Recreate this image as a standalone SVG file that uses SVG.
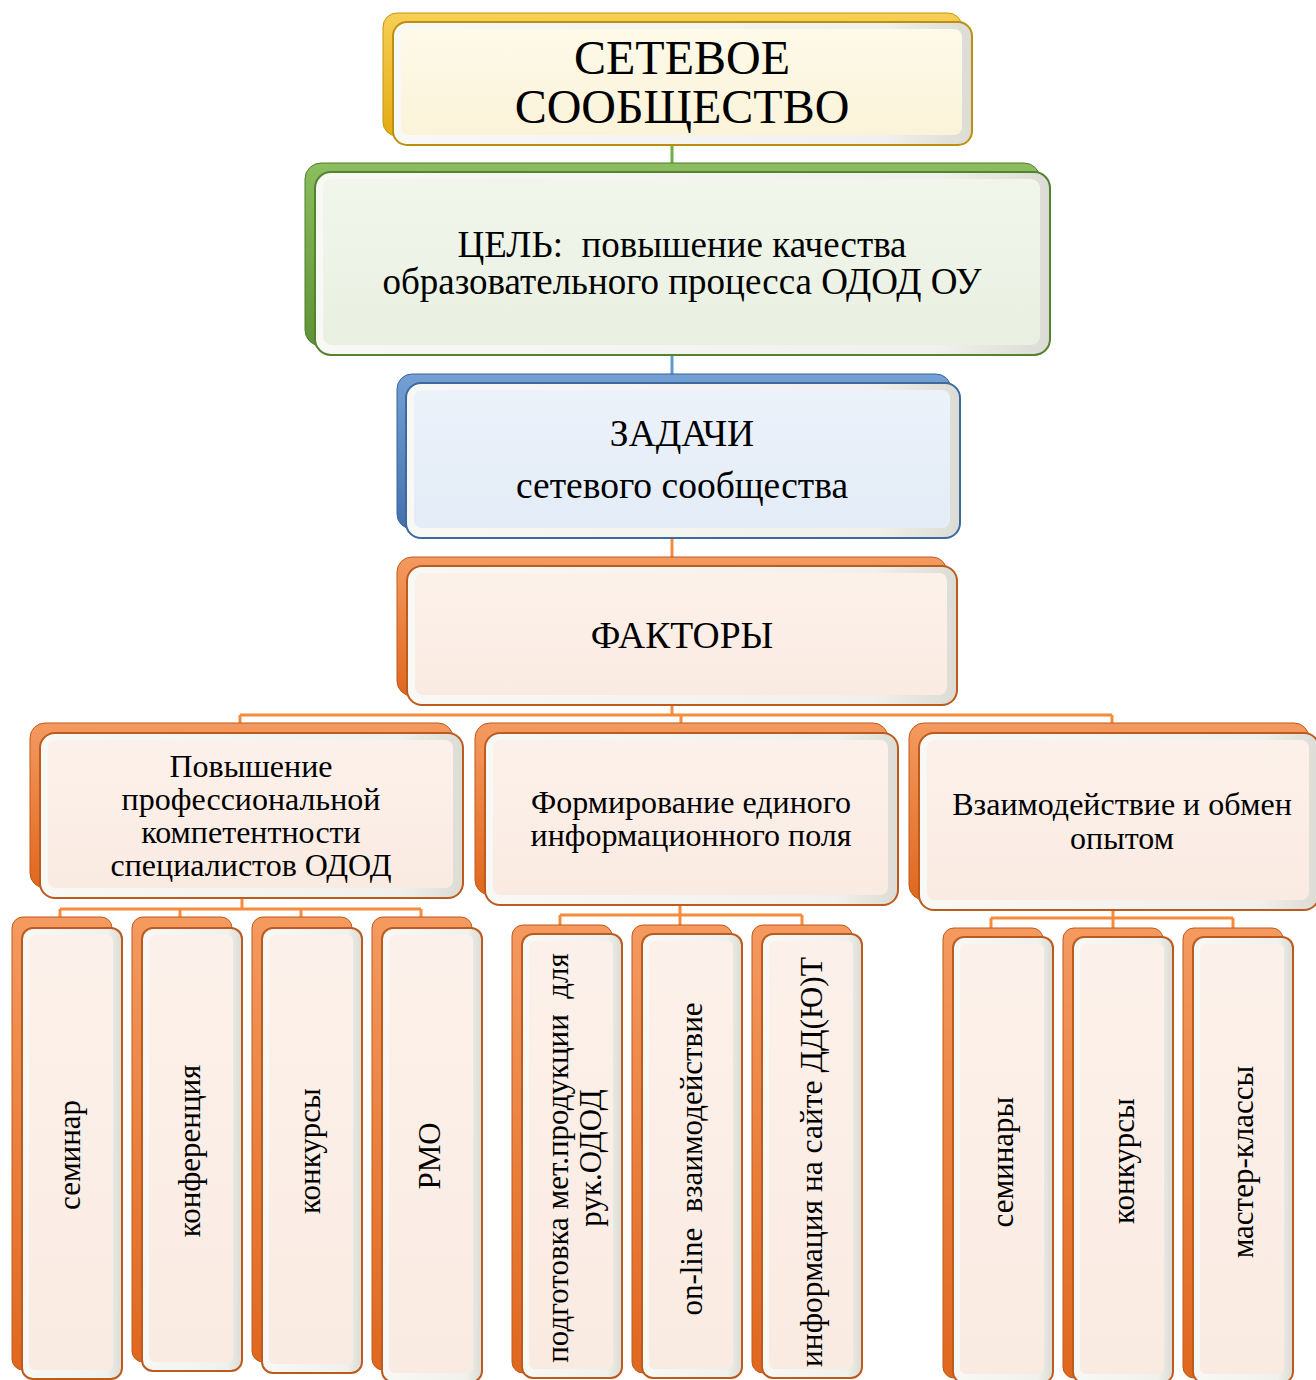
<svg xmlns="http://www.w3.org/2000/svg" width="1316" height="1380" viewBox="0 0 1316 1380">
<defs>
<linearGradient id="gGold" x1="0" y1="0" x2="0" y2="1"><stop offset="0" stop-color="#f7cf55"/><stop offset="1" stop-color="#e3ab12"/></linearGradient>
<linearGradient id="gGreen" x1="0" y1="0" x2="0" y2="1"><stop offset="0" stop-color="#8cbd5e"/><stop offset="1" stop-color="#5f9236"/></linearGradient>
<linearGradient id="gBlue" x1="0" y1="0" x2="0" y2="1"><stop offset="0" stop-color="#74a0d4"/><stop offset="1" stop-color="#4471ad"/></linearGradient>
<linearGradient id="gOrange" x1="0" y1="0" x2="0" y2="1"><stop offset="0" stop-color="#f49a60"/><stop offset="1" stop-color="#e0671e"/></linearGradient>
<linearGradient id="bevel" x1="0" y1="0" x2="1" y2="0"><stop offset="0" stop-color="#f8f8f5"/><stop offset="0.85" stop-color="#f0f0ec"/><stop offset="1" stop-color="#dcdcd5"/></linearGradient>
<linearGradient id="fGold" x1="0" y1="0" x2="0" y2="1"><stop offset="0" stop-color="#fefae9"/><stop offset="1" stop-color="#fbf3d9"/></linearGradient>
<linearGradient id="fGreen" x1="0" y1="0" x2="0" y2="1"><stop offset="0" stop-color="#f1f6eb"/><stop offset="1" stop-color="#e9f0e1"/></linearGradient>
<linearGradient id="fBlue" x1="0" y1="0" x2="0" y2="1"><stop offset="0" stop-color="#ecf2fa"/><stop offset="1" stop-color="#e3ecf7"/></linearGradient>
<linearGradient id="fOrange" x1="0" y1="0" x2="0" y2="1"><stop offset="0" stop-color="#fcf1ea"/><stop offset="1" stop-color="#faebe2"/></linearGradient>
</defs>
<style>
.t{font-family:"Liberation Serif","Times New Roman",serif;fill:#000;text-anchor:middle}
.c{fill:none;stroke-width:3}
.co{stroke:#f68b3c}
.front{fill:url(#bevel);stroke-width:2}
.bk-gold{fill:url(#gGold);stroke:#c4960f;stroke-width:1}
.bk-green{fill:url(#gGreen);stroke:#4f7f2c;stroke-width:1}
.bk-blue{fill:url(#gBlue);stroke:#37649c;stroke-width:1}
.bk-orange{fill:url(#gOrange);stroke:#bf5a1c;stroke-width:1}
.fr-gold{stroke:#bd8f0e}
.fr-green{stroke:#53832f}
.fr-blue{stroke:#3c6a9e}
.fr-orange{stroke:#bd5a1e}
.in-gold{fill:url(#fGold)}
.in-green{fill:url(#fGreen)}
.in-blue{fill:url(#fBlue)}
.in-orange{fill:url(#fOrange)}
</style>
<rect width="1316" height="1380" fill="#ffffff"/>
<g id="connectors">
<path class="c" stroke="#70ad47" d="M672 145 V172"/>
<path class="c" stroke="#5b9bd5" d="M672 355 V383"/>
<path class="c co" d="M672 538 V566"/>
<path class="c co" d="M672 705 V715 M240 715 H1112 M240 715 V723 M681 715 V723 M1112 715 V723"/>
<path class="c co" d="M242 898 V909 M60 909 H421 M60 909 V917 M180 909 V917 M301 909 V917 M421 909 V917"/>
<path class="c co" d="M680 905 V915 M560 915 H802 M560 915 V925 M680 915 V925 M802 915 V925"/>
<path class="c co" d="M1113 910 V918 M991 918 H1233 M991 918 V928 M1113 918 V928 M1233 918 V928"/>
</g>
<g id="node-community">
<rect class="bk-gold" x="383" y="13" width="579" height="123" rx="14"/>
<rect class="front fr-gold" x="393" y="22" width="579" height="123" rx="14"/>
<rect class="in-gold" x="401" y="29" width="561" height="106" rx="8"/>
<text class="t" font-size="48"><tspan x="682" y="74">СЕТЕВОЕ</tspan><tspan x="682" y="123">СООБЩЕСТВО</tspan></text>
</g>
<g id="node-goal">
<rect class="bk-green" x="305" y="163" width="735" height="183" rx="16"/>
<rect class="front fr-green" x="315" y="172" width="735" height="183" rx="16"/>
<rect class="in-green" x="323" y="179" width="717" height="166" rx="9"/>
<text class="t" font-size="37" xml:space="preserve"><tspan x="682" y="257">ЦЕЛЬ:  повышение качества</tspan><tspan x="682" y="294">образовательного процесса ОДОД ОУ</tspan></text>
</g>
<g id="node-tasks">
<rect class="bk-blue" x="397" y="374" width="554" height="155" rx="15"/>
<rect class="front fr-blue" x="406" y="383" width="554" height="155" rx="15"/>
<rect class="in-blue" x="414" y="390" width="536" height="138" rx="8"/>
<text class="t" font-size="37.5"><tspan x="682" y="446">ЗАДАЧИ</tspan><tspan x="682" y="498">сетевого сообщества</tspan></text>
</g>
<g id="node-factors">
<rect class="bk-orange" x="397" y="557" width="550" height="139" rx="15"/>
<rect class="front fr-orange" x="407" y="566" width="550" height="139" rx="15"/>
<rect class="in-orange" x="415" y="573" width="532" height="122" rx="8"/>
<text class="t" font-size="37.5" x="682" y="648">ФАКТОРЫ</text>
</g>
<g id="node-competence">
<rect class="bk-orange" x="30" y="723" width="423" height="165" rx="15"/>
<rect class="front fr-orange" x="40" y="733" width="423" height="165" rx="15"/>
<rect class="in-orange" x="48" y="740" width="405" height="148" rx="8"/>
<text class="t" font-size="32"><tspan x="251" y="777">Повышение</tspan><tspan x="251" y="810">профессиональной</tspan><tspan x="251" y="843">компетентности</tspan><tspan x="251" y="876">специалистов ОДОД</tspan></text>
</g>
<g id="node-infofield">
<rect class="bk-orange" x="475" y="723" width="413" height="172" rx="15"/>
<rect class="front fr-orange" x="485" y="733" width="413" height="172" rx="15"/>
<rect class="in-orange" x="493" y="740" width="395" height="155" rx="8"/>
<text class="t" font-size="32"><tspan x="691" y="813">Формирование единого</tspan><tspan x="691" y="846">информационного поля</tspan></text>
</g>
<g id="node-exchange">
<rect class="bk-orange" x="909" y="723" width="400" height="177" rx="15"/>
<rect class="front fr-orange" x="919" y="733" width="400" height="177" rx="15"/>
<rect class="in-orange" x="927" y="740" width="382" height="160" rx="8"/>
<text class="t" font-size="32"><tspan x="1122" y="815">Взаимодействие и обмен</tspan><tspan x="1122" y="849">опытом</tspan></text>
</g>
<g id="leaf-seminar">
<rect class="bk-orange" x="12" y="917" width="100" height="453" rx="11"/>
<rect class="front fr-orange" x="22" y="928" width="100" height="451" rx="11"/>
<rect class="in-orange" x="29" y="935" width="84" height="435" rx="6"/>
<text class="t" font-size="31" transform="translate(80,1155) rotate(-90)">семинар</text>
</g>
<g id="leaf-conference">
<rect class="bk-orange" x="132" y="917" width="100" height="445" rx="11"/>
<rect class="front fr-orange" x="142" y="928" width="100" height="443" rx="11"/>
<rect class="in-orange" x="149" y="935" width="84" height="427" rx="6"/>
<text class="t" font-size="31" transform="translate(200,1151) rotate(-90)">конференция</text>
</g>
<g id="leaf-contests1">
<rect class="bk-orange" x="252" y="917" width="100" height="445" rx="11"/>
<rect class="front fr-orange" x="262" y="928" width="100" height="445" rx="11"/>
<rect class="in-orange" x="269" y="935" width="84" height="429" rx="6"/>
<text class="t" font-size="31" transform="translate(320,1151) rotate(-90)">конкурсы</text>
</g>
<g id="leaf-rmo">
<rect class="bk-orange" x="372" y="917" width="100" height="453" rx="11"/>
<rect class="front fr-orange" x="382" y="928" width="100" height="454" rx="11"/>
<rect class="in-orange" x="389" y="935" width="84" height="438" rx="6"/>
<text class="t" font-size="31" transform="translate(440,1156) rotate(-90)">РМО</text>
</g>
<g id="leaf-methodical">
<rect class="bk-orange" x="512" y="925" width="100" height="448" rx="11"/>
<rect class="front fr-orange" x="522" y="934" width="100" height="444" rx="11"/>
<rect class="in-orange" x="529" y="941" width="84" height="428" rx="6"/>
<text class="t" font-size="31" xml:space="preserve" transform="translate(568,1158) rotate(-90)"><tspan x="0" y="0">подготовка мет.продукции  для</tspan><tspan x="0" y="33">рук.ОДОД</tspan></text>
</g>
<g id="leaf-online">
<rect class="bk-orange" x="632" y="925" width="100" height="448" rx="11"/>
<rect class="front fr-orange" x="642" y="934" width="100" height="444" rx="11"/>
<rect class="in-orange" x="649" y="941" width="84" height="428" rx="6"/>
<text class="t" font-size="31" xml:space="preserve" transform="translate(702,1159) rotate(-90)">on-line  взаимодействие</text>
</g>
<g id="leaf-website">
<rect class="bk-orange" x="752" y="925" width="100" height="448" rx="11"/>
<rect class="front fr-orange" x="762" y="934" width="100" height="444" rx="11"/>
<rect class="in-orange" x="769" y="941" width="84" height="428" rx="6"/>
<text class="t" font-size="31.5" transform="translate(822,1162) rotate(-90)">информация на сайте ДД(Ю)Т</text>
</g>
<g id="leaf-seminars">
<rect class="bk-orange" x="943" y="928" width="100" height="450" rx="11"/>
<rect class="front fr-orange" x="953" y="937" width="100" height="446" rx="11"/>
<rect class="in-orange" x="960" y="944" width="84" height="430" rx="6"/>
<text class="t" font-size="31" transform="translate(1013,1162) rotate(-90)">семинары</text>
</g>
<g id="leaf-contests2">
<rect class="bk-orange" x="1063" y="928" width="100" height="450" rx="11"/>
<rect class="front fr-orange" x="1073" y="937" width="100" height="446" rx="11"/>
<rect class="in-orange" x="1080" y="944" width="84" height="430" rx="6"/>
<text class="t" font-size="31" transform="translate(1134,1161) rotate(-90)">конкурсы</text>
</g>
<g id="leaf-masterclasses">
<rect class="bk-orange" x="1183" y="928" width="100" height="450" rx="11"/>
<rect class="front fr-orange" x="1193" y="937" width="100" height="446" rx="11"/>
<rect class="in-orange" x="1200" y="944" width="84" height="430" rx="6"/>
<text class="t" font-size="31" transform="translate(1253,1162) rotate(-90)">мастер-классы</text>
</g>
</svg>
